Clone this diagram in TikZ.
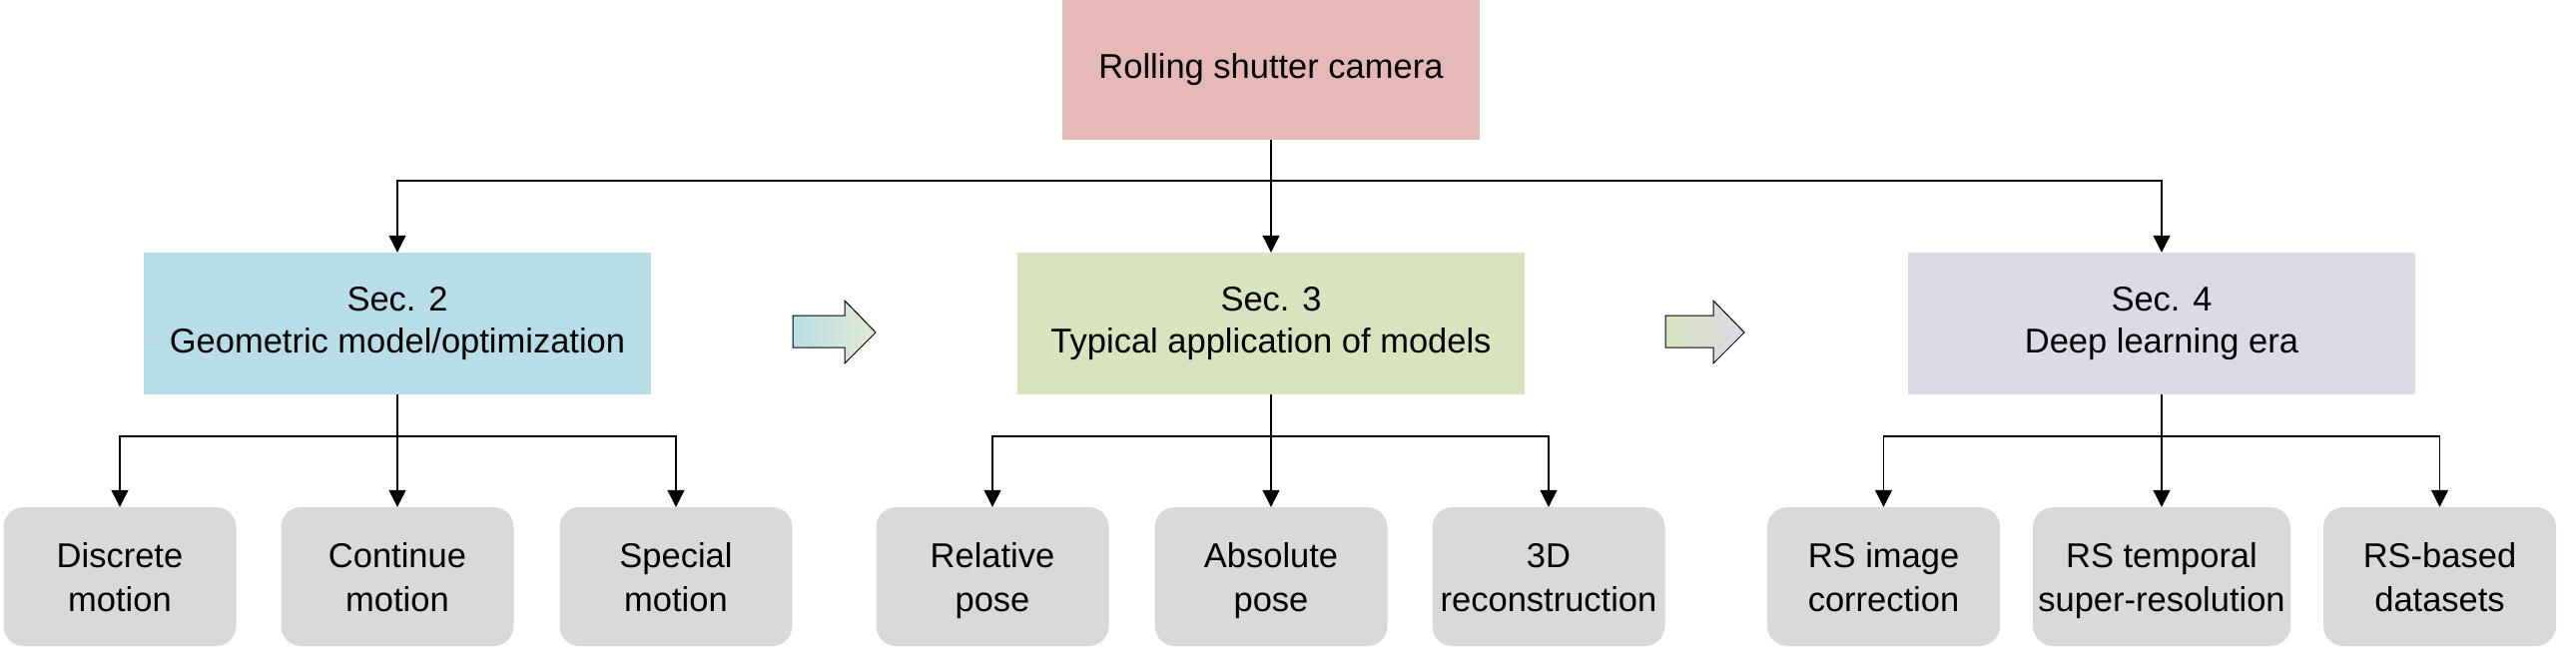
\documentclass[tikz,border=0pt]{standalone}
\usepackage{fontspec}
\setmainfont{Liberation Sans}
\usetikzlibrary{arrows.meta}
\definecolor{rootc}{HTML}{E6B9B8}
\definecolor{secb}{HTML}{B7DDE8}
\definecolor{secg}{HTML}{D7E4BD}
\definecolor{secp}{HTML}{DDD9E7}
\definecolor{leafc}{HTML}{D9D9D9}
\newcommand\mystrut{\rule[-9pt]{0pt}{35pt}}
\newcommand\lfstrut{\rule[-9pt]{0pt}{43pt}}
\tikzset{
  box/.style={inner sep=0pt, align=center, font=\fontsize{34.5}{42}\selectfont},
  rootbox/.style={box, fill=rootc, minimum width=418pt, minimum height=140pt},
  secbox/.style={box, minimum width=508pt, minimum height=142pt},
  leafbox/.style={box, fill=leafc, rounded corners=20pt, minimum width=233pt, minimum height=139pt},
  conn/.style={line width=1.2pt},
  arr/.style={conn, -{Triangle[width=17pt,length=17pt]}},
  blockarr/.style={draw=black, line width=1pt}
}
\begin{document}
\begin{tikzpicture}[x=1pt,y=-1pt]
\useasboundingbox (0,0) rectangle (2580,651);
% root
\node[rootbox] (root) at (1273,70) {\mystrut Rolling shutter camera};
% sections
\node[secbox, fill=secb] (s2) at (398,324) {\mystrut Sec. 2\\\mystrut Geometric model/optimization};
\node[secbox, fill=secg] (s3) at (1273,324) {\mystrut Sec. 3\\\mystrut Typical application of models};
\node[secbox, fill=secp] (s4) at (2165,324) {\mystrut Sec. 4\\\mystrut Deep learning era};
% leaves
\node[leafbox] (l1) at (120,577.5) {\lfstrut Discrete\\\lfstrut motion};
\node[leafbox] (l2) at (398,577.5) {\lfstrut Continue\\\lfstrut motion};
\node[leafbox] (l3) at (677,577.5) {\lfstrut Special\\\lfstrut motion};
\node[leafbox] (l4) at (994,577.5) {\lfstrut Relative\\\lfstrut pose};
\node[leafbox] (l5) at (1273,577.5) {\lfstrut Absolute\\\lfstrut pose};
\node[leafbox] (l6) at (1551,577.5) {\lfstrut 3D\\\lfstrut reconstruction};
\node[leafbox] (l7) at (1886.5,577.5) {\lfstrut RS image\\\lfstrut correction};
\node[leafbox, minimum width=258pt] (l8) at (2165,577.5) {\lfstrut RS temporal\\\lfstrut super-resolution};
\node[leafbox] (l9) at (2443.5,577.5) {\lfstrut RS-based\\\lfstrut datasets};
% junctions
\coordinate (j0) at (root.south |- 0,181);
\coordinate (j2) at (s2.south |- 0,437);
\coordinate (j3) at (s3.south |- 0,437);
\coordinate (j4) at (s4.south |- 0,437);
% connectors
\draw[conn] (root.south) -- (j0);
\draw[arr] (j0) -| (s2.north);
\draw[arr] (j0) -- (s3.north);
\draw[arr] (j0) -| (s4.north);
\draw[conn] (s2.south) -- (j2);
\draw[arr] (j2) -| (l1.north);
\draw[arr] (j2) -- (l2.north);
\draw[arr] (j2) -| (l3.north);
\draw[conn] (s3.south) -- (j3);
\draw[arr] (j3) -| (l4.north);
\draw[arr] (j3) -- (l5.north);
\draw[arr] (j3) -| (l6.north);
\draw[conn] (s4.south) -- (j4);
\draw[arr] (j4) -| (l7.north);
\draw[arr] (j4) -- (l8.north);
\draw[arr] (j4) -| (l9.north);
% block arrows
\shade[blockarr, left color=secb, right color=secg!70!white]
  (794,316) -- (846,316) -- (846,301) -- (877,333) -- (846,364) -- (846,348) -- (794,348) -- cycle;
\shade[blockarr, left color=secg, right color=secp]
  (1668,316) -- (1716,316) -- (1716,301) -- (1747,333) -- (1716,364) -- (1716,348) -- (1668,348) -- cycle;
\end{tikzpicture}
\end{document}
